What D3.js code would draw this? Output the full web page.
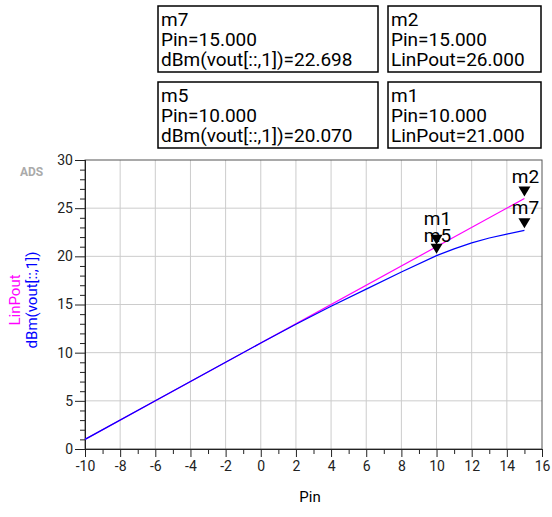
<!DOCTYPE html>
<html><head><meta charset="utf-8">
<script src="https://cdn.jsdelivr.net/npm/d3@7"></script>
<style>body{margin:0;background:#fff}text{font-family:Roboto,sans-serif}</style>
</head><body><div id="chart"></div>
<script>
var pinLin = [-10, 15];
var linPout = [1, 26];
var pin = [-10, -6, -2, 0, 2, 4, 6, 8, 10, 11, 12, 13, 14, 15];
var dbmVout = [1, 5, 9, 11, 12.95, 14.82, 16.6, 18.38, 20.07, 20.78, 21.4, 21.9, 22.3, 22.698];
var markers = [
  {name: "m1", x: 10, y: 21, dy: -6},
  {name: "m5", x: 10, y: 20.07, dy: 2},
  {name: "m2", x: 15, y: 26, dy: 0},
  {name: "m7", x: 15, y: 22.698, dy: 0}
];
var boxes = [
  {x: 158, y: 6, w: 220, lines: ["m7", "Pin=15.000", "dBm(vout[::,1])=22.698"]},
  {x: 388, y: 6, w: 153, lines: ["m2", "Pin=15.000", "LinPout=26.000"]},
  {x: 158, y: 82, w: 220, lines: ["m5", "Pin=10.000", "dBm(vout[::,1])=20.070"]},
  {x: 388, y: 82, w: 153, lines: ["m1", "Pin=10.000", "LinPout=21.000"]}
];

var svg = d3.select("#chart").append("svg").attr("width", 552).attr("height", 517);
var x = d3.scaleLinear().domain([-10, 16]).range([85, 542]);
var y = d3.scaleLinear().domain([0, 30]).range([449, 160]);

// grid
svg.append("g").selectAll("line").data(d3.range(-8, 16, 2)).enter().append("line")
  .attr("x1", d => x(d)).attr("x2", d => x(d)).attr("y1", 160).attr("y2", 449)
  .attr("stroke", "#ccc");
svg.append("g").selectAll("line").data(d3.range(5, 30, 5)).enter().append("line")
  .attr("y1", d => y(d)).attr("y2", d => y(d)).attr("x1", 85).attr("x2", 542)
  .attr("stroke", "#ccc");
svg.append("rect").attr("x", 85).attr("y", 160).attr("width", 457).attr("height", 289)
  .attr("fill", "none").attr("stroke", "#555");

var fmt = d => String(d);
svg.append("g").attr("transform", "translate(0,449)")
  .call(d3.axisBottom(x).tickValues(d3.range(-10, 17, 2)).tickSize(8).tickPadding(4).tickFormat(fmt));
svg.append("g").attr("transform", "translate(0,449)")
  .call(d3.axisBottom(x).tickValues(d3.range(-9, 16, 2)).tickSize(5).tickFormat(""));
svg.append("g").attr("transform", "translate(85,0)")
  .call(d3.axisLeft(y).tickValues(d3.range(0, 31, 5)).tickSize(10).tickPadding(2).tickFormat(fmt));
svg.append("g").attr("transform", "translate(85,0)")
  .call(d3.axisLeft(y).tickValues(d3.range(0, 31, 1).filter(d => d % 5)).tickSize(5).tickFormat(""));
svg.selectAll(".domain").attr("stroke", "#222");
svg.selectAll(".tick line").attr("stroke", "#222");
svg.selectAll(".tick text").attr("font-size", 14).attr("fill", "#222").style("font-family", "Roboto");

var line = d3.line().x(d => x(d[0])).y(d => y(d[1]));
svg.append("path").datum(d3.zip(pinLin, linPout)).attr("d", line)
  .attr("fill", "none").attr("stroke", "#ff00ff").attr("stroke-width", 1.2);
svg.append("path").datum(d3.zip(pin, dbmVout)).attr("d", line)
  .attr("fill", "none").attr("stroke", "#0000ff").attr("stroke-width", 1.2);

markers.forEach(function(m) {
  var px = x(m.x), py = y(m.y);
  svg.append("path").attr("d", "M" + (px - 6) + "," + (py - 12) + "L" + (px + 6) + "," + (py - 12) + "L" + px + "," + (py - 2) + "Z")
    .attr("fill", "#000");
  svg.append("text").attr("x", px + 1).attr("y", py - 16 + m.dy)
    .attr("text-anchor", "middle").attr("font-size", 19).text(m.name);
});

svg.append("text").attr("x", 20).attr("y", 176).attr("font-size", 12).attr("font-weight", "bold").attr("fill", "#aaa").text("ADS");
svg.append("text").attr("x", 310).attr("y", 502).attr("text-anchor", "middle").attr("font-size", 15).text("Pin");
svg.append("text").attr("transform", "translate(20,300) rotate(-90)").attr("text-anchor", "middle")
  .attr("font-size", 15).attr("fill", "#ff00ff").text("LinPout");
svg.append("text").attr("transform", "translate(37,300) rotate(-90)").attr("text-anchor", "middle")
  .attr("font-size", 15).attr("fill", "#0000ff").text("dBm(vout[::,1])");

boxes.forEach(function(b) {
  svg.append("rect").attr("x", b.x).attr("y", b.y).attr("width", b.w).attr("height", 66)
    .attr("fill", "#fff").attr("stroke", "#000").attr("stroke-width", 1.5);
  b.lines.forEach(function(t, i) {
    svg.append("text").attr("x", b.x + 3).attr("y", b.y + 20 + i * 20).attr("font-size", 19).text(t);
  });
});
</script></body></html>
